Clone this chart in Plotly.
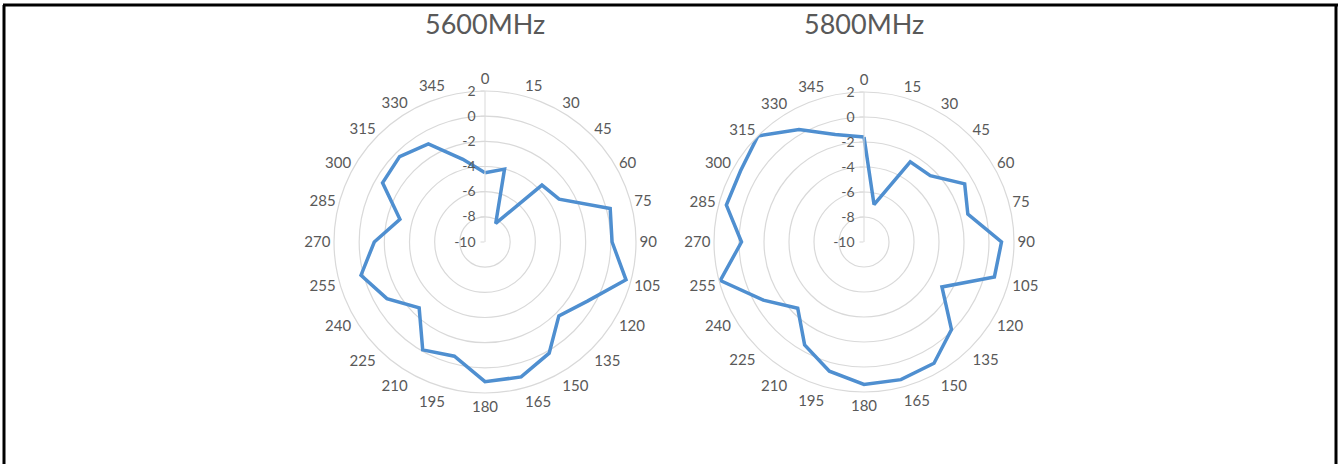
import plotly.graph_objects as go

angles = [0, 15, 30, 45, 60, 75, 90, 105, 120, 135, 150, 165,
          180, 195, 210, 225, 240, 255, 270, 285, 300, 315, 330, 345]
gain_5600 = [-4.5, -4.0, -8.3, -3.6, -3.2, 0.3, 0.1, 1.6, -0.6, -1.7, 0.2, 1.1,
             1.1, -0.6, -0.1, -2.6, -1.0, 0.2, -1.2, -3.0, -0.6, -0.4, -1.0, -3.2]
gain_5800 = [-1.6, -6.9, -2.6, -2.5, -0.7, -1.4, 1.0, 0.8, -2.8, -0.1, 1.2, 1.4,
             1.4, 0.7, -0.5, -2.5, -0.7, 1.9, -0.2, 1.4, 1.4, 2.0, 0.4, -1.1]
titles = ["5600MHz", "5800MHz"]
radial_ticks = [-10, -8, -6, -4, -2, 0, 2]

W, H = 1338, 464
GRAY = "#595959"
GRID = "#d9d9d9"
LINE = "#4f8fd0"
FONT = "Lato"

fig = go.Figure()
for i, vals in enumerate([gain_5600, gain_5800]):
    fig.add_trace(go.Scatterpolar(
        r=vals + vals[:1], theta=angles + angles[:1],
        mode="lines", line=dict(color=LINE, width=3.5),
        subplot="polar" if i == 0 else "polar2", showlegend=False,
        hoverinfo="skip"))

centers = [(485, 242, 151), (864, 242, 150)]

def polar_layout(cx, cy, rad):
    return dict(
        domain=dict(x=[(cx - rad) / W, (cx + rad) / W],
                    y=[(H - cy - rad) / H, (H - cy + rad) / H]),
        bgcolor="white",
        radialaxis=dict(range=[-10, 2], tickvals=radial_ticks,
                        ticktext=[str(v) for v in radial_ticks], angle=90,
                        side="counterclockwise", showline=True,
                        linecolor=GRID, linewidth=1, gridcolor=GRID,
                        gridwidth=1.2, ticks="outside", ticklen=4,
                        tickcolor=GRID, tickangle=90,
                        tickfont=dict(family=FONT, size=14, color=GRAY)),
        angularaxis=dict(rotation=90, direction="clockwise",
                         tickvals=angles, ticktext=[str(a) for a in angles],
                         showgrid=False, showline=True, linecolor=GRID,
                         linewidth=1.2, ticks="",
                         tickfont=dict(family=FONT, size=15, color=GRAY)),
    )

fig.update_layout(
    width=W, height=H, autosize=False,
    margin=dict(l=0, r=0, t=0, b=0),
    paper_bgcolor="white", plot_bgcolor="white",
    polar=polar_layout(*centers[0]),
    polar2=polar_layout(*centers[1]),
)

for (cx, cy, rad), t in zip(centers, titles):
    fig.add_annotation(text=t, x=cx / W, y=(H - 24) / H, xref="paper",
                       yref="paper", xanchor="center", yanchor="middle",
                       showarrow=False,
                       font=dict(family=FONT, size=27, color=GRAY))

# outer border
for x0, y0, x1, y1 in [(3, 5, W, 5), (4, 5, 4, H), (W - 2, 5, W - 2, H)]:
    fig.add_shape(type="line", xref="paper", yref="paper",
                  x0=x0 / W, x1=x1 / W, y0=(H - y0) / H, y1=(H - y1) / H,
                  line=dict(color="black", width=3))

fig.write_html(
    "out.html",
    config={"displayModeBar": False, "staticPlot": True},
    post_script="document.body.style.margin='0';document.body.style.overflow='hidden';",
)
